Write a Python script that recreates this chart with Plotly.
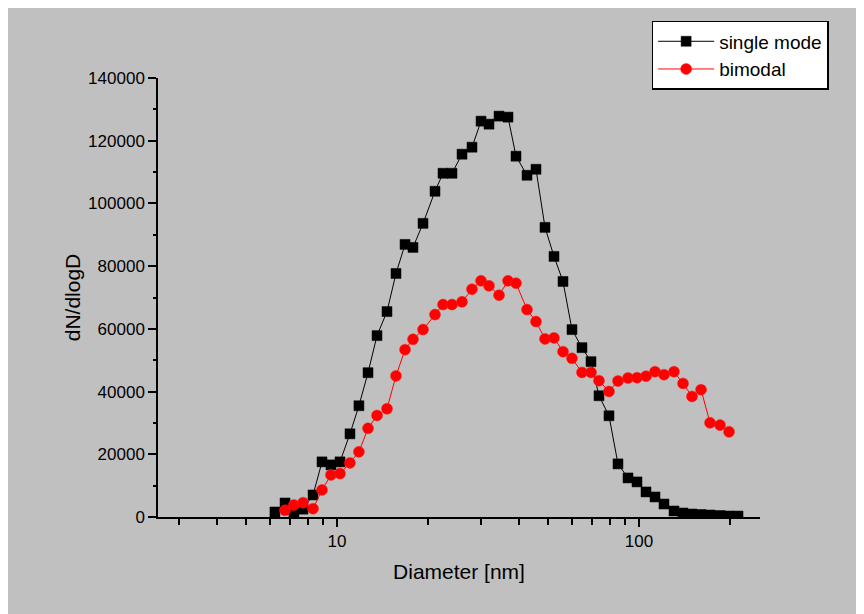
import plotly.graph_objects as go

# Diameters [nm] (common size grid)
diameter = [6.23, 6.73, 7.20, 7.72, 8.33, 8.92, 9.55, 10.23, 11.04, 11.82,
            12.67, 13.57, 14.64, 15.68, 16.80, 17.85, 19.27, 21.11, 22.44, 24.04,
            25.94, 27.99, 29.99, 31.87, 34.40, 36.84, 39.15, 42.58, 45.60, 48.84,
            52.31, 56.03, 59.99, 64.75, 69.36, 73.71, 79.55, 85.20, 91.96, 98.49,
            105.5, 113.0, 121.0, 130.6, 139.9, 149.8, 160.5, 171.9, 185.5, 198.7,
            212.8]

single_mode = [1600, 4470, 1280, 2500, 7030, 17580, 16620, 17580, 26530, 35480,
               46020, 57850, 65520, 77660, 86930, 85970, 93640, 103870, 109620, 109620,
               115700, 117930, 126240, 125280, 127840, 127520, 115060, 108980, 110900, 92360,
               83100, 75110, 59770, 54010, 49540, 38670, 32280, 16940, 12460, 11190,
               7990, 6390, 4150, 1920, 1280, 960, 800, 640, 480, 320,
               300]

bimodal_diameter = diameter[1:50]
bimodal = [2140, 3840, 4570, 2650, 8630, 13420, 13840, 17260, 20770,
           28280, 32380, 34520, 45000, 53370, 56670, 59770, 64560, 67760, 67760,
           68620, 72650, 75330, 73730, 70730, 75330, 74560, 66160, 62320, 56790,
           57110, 52730, 50590, 46120, 46120, 43470, 40050, 43370, 44330, 44420,
           44900, 46340, 45380, 46340, 42600, 38450, 40590, 30040, 29310, 27170]

x_major = [10, 100]
x_major_text = ["10", "100"]
x_minor = [3, 4, 5, 6, 7, 8, 9, 20, 30, 40, 50, 60, 70, 80, 90, 200]
y_major = [0, 20000, 40000, 60000, 80000, 100000, 120000, 140000]
y_major_text = ["0", "20000", "40000", "60000", "80000", "100000", "120000", "140000"]

fig = go.Figure()
fig.add_trace(go.Scatter(
    x=diameter, y=single_mode, name="single mode", mode="lines+markers",
    line=dict(color="black", width=1),
    marker=dict(symbol="square", size=10, color="black",
                line=dict(color="black", width=0.5))))
fig.add_trace(go.Scatter(
    x=bimodal_diameter, y=bimodal, name="bimodal", mode="lines+markers",
    line=dict(color="red", width=1),
    marker=dict(symbol="circle", size=11, color="red",
                line=dict(color="#ff2020", width=0.5))))

font_family = "Liberation Sans, Arial, sans-serif"
fig.update_layout(
    width=864, height=614,
    paper_bgcolor="#c0c0c0", plot_bgcolor="#c0c0c0",
    margin=dict(l=150, r=112, t=70, b=105),
    font=dict(family=font_family, size=17, color="black"),
    showlegend=True,
    legend=dict(x=0.82, y=1.13, xanchor="left", yanchor="top",
                bgcolor="white", bordercolor="black", borderwidth=1.5,
                font=dict(size=19, family=font_family),
                tracegroupgap=0, itemwidth=56),
)
fig.update_xaxes(
    type="log", range=[0.4073, 2.4007],
    showline=True, linecolor="black", linewidth=1.5, showgrid=False, zeroline=False,
    ticks="outside", ticklen=8, tickwidth=1.5, tickcolor="black",
    tickvals=x_major, ticktext=x_major_text,
    tickfont=dict(size=17),
    minor=dict(ticks="outside", ticklen=6, tickwidth=1.5, tickcolor="black",
               tickvals=x_minor, showgrid=False),
    title=dict(text="Diameter [nm]", font=dict(size=21), standoff=14),
)
fig.update_yaxes(
    range=[0, 140000],
    showline=True, linecolor="black", linewidth=1.5, showgrid=False, zeroline=False,
    ticks="outside", ticklen=8, tickwidth=1.5, tickcolor="black",
    tickvals=y_major, ticktext=y_major_text,
    tickfont=dict(size=17),
    minor=dict(ticks="outside", ticklen=3, tickwidth=1.5, tickcolor="black",
               dtick=10000, showgrid=False),
    title=dict(text="dN/dlogD", font=dict(size=21), standoff=2),
)

fig.write_html("out.html")
